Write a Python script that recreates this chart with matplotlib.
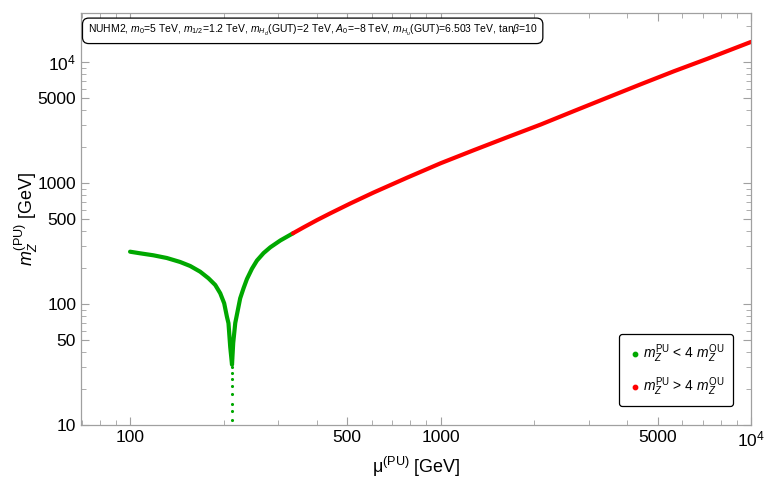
import numpy as np
import matplotlib.pyplot as plt
from matplotlib.ticker import FixedLocator, NullFormatter

plt.rcParams['font.family'] = ['Liberation Sans', 'DejaVu Sans']
plt.rcParams['mathtext.fontset'] = 'custom'
plt.rcParams['mathtext.rm'] = 'Liberation Sans'
plt.rcParams['mathtext.it'] = 'Liberation Sans:italic'
plt.rcParams['mathtext.bf'] = 'Liberation Sans:bold'

# values (GeV)
mu_green = [100, 107.7, 118.9, 131.3, 145.0, 156.2, 168.2, 178.9, 188.1, 195.2, 201.0,
            205.1, 207.5, 210.2, 213.0,
            214.9, 218.2, 226.3, 232.0, 237.9, 247.0, 256.3, 269.2, 282.9, 304.8, 334.8]
mz_green = [270.5, 262.4, 252.6, 240.0, 222.4, 206.1, 184.9, 163.1, 143.6, 122.6, 101.3,
            78.5, 69.3, 44.1, 31.5,
            47.6, 69.7, 111.4, 134.9, 160.7, 195.9, 228.7, 263.6, 294, 335, 384]
mu_dip = [213.3, 213.1, 213.4, 213.2, 213.3, 213.2, 213.4, 213.3, 213.2, 213.3, 213.3]
mz_dip = [40, 36, 33, 30, 27, 24, 21, 18, 15, 13, 11]
mu_red = [334.8, 362.2, 400.3, 441.8, 512.6, 608, 782.6, 1000, 1278, 1645, 2101,
          2692, 3449, 4418, 5658, 7250, 10000]
mz_red = [384, 430, 494, 562, 678, 833, 1110, 1455, 1865, 2395, 3040,
          3935, 5080, 6550, 8400, 10650, 14650]

green = '#00a800'
red = '#ff0000'
frame = '#a0a0a0'

fig = plt.figure(figsize=(7.66, 4.80), dpi=100)
ax = fig.add_axes([81/766, 55/480, 670/766, 412/480])

ax.plot(mu_green, mz_green, color=green, lw=3, solid_capstyle='round', solid_joinstyle='round')
ax.scatter(mu_dip, mz_dip, s=5, color=green, lw=0)
ax.plot(mu_red, mz_red, color=red, lw=3, solid_capstyle='round', solid_joinstyle='round')

ax.set_xscale('log')
ax.set_yscale('log')
ax.set_xlim(69.5, 1e4)
ax.set_ylim(10, 2.54e4)

xmaj = [100, 500, 1000, 5000, 10000]
xlab = ['100', '500', '1000', '5000', r'$10^4$']
ymaj = [10, 50, 100, 500, 1000, 5000, 10000]
ylab = ['10', '50', '100', '500', '1000', '5000', r'$10^4$']
xmin = [d * k for d in (10, 100, 1000) for k in range(2, 10)]
ymin = [d * k for d in (10, 100, 1000, 10000) for k in range(2, 10)]
ax.xaxis.set_major_locator(FixedLocator(xmaj))
ax.set_xticklabels(xlab)
ax.yaxis.set_major_locator(FixedLocator(ymaj))
ax.set_yticklabels(ylab)
ax.xaxis.set_minor_locator(FixedLocator([v for v in xmin if v not in xmaj]))
ax.yaxis.set_minor_locator(FixedLocator([v for v in ymin if v not in ymaj]))
ax.xaxis.set_minor_formatter(NullFormatter())
ax.yaxis.set_minor_formatter(NullFormatter())

ax.tick_params(which='both', direction='in', top=True, right=True, color=frame,
               labelsize=12.5, labelcolor='black')
ax.tick_params(which='major', length=6, width=0.8)
ax.tick_params(which='minor', length=3.5, width=0.6)
for s in ax.spines.values():
    s.set_color(frame)
    s.set_linewidth(0.9)

ax.set_xlabel(r'$\mathrm{\mu}^{\mathrm{(PU)}}$ [GeV]', fontsize=13)
ax.set_ylabel(r'$m_Z^{\mathrm{(PU)}}$ [GeV]', fontsize=13, labelpad=-2)

title = (r'NUHM2, $m_0$=5 TeV, $m_{1/2}$=1.2 TeV, $m_{H_d}$(GUT)=2 TeV, '
         r'$A_0$=$-$8 TeV, $m_{H_u}$(GUT)=6.503 TeV, tan$\beta$=10')
ax.text(0.01, 0.975, title, transform=ax.transAxes, ha='left', va='top', fontsize=7.5,
        bbox=dict(boxstyle='round,pad=0.5,rounding_size=0.6', fc='white', ec='black', lw=0.9))

ax.scatter([], [], s=10, color=green, label=r'$m_Z^{\mathrm{PU}}$ < 4 $m_Z^{\mathrm{OU}}$')
ax.scatter([], [], s=10, color=red, label=r'$m_Z^{\mathrm{PU}}$ > 4 $m_Z^{\mathrm{OU}}$')
leg = ax.legend(loc='lower right', bbox_to_anchor=(0.973, 0.046), borderaxespad=0,
                fontsize=10, frameon=True, fancybox=True, edgecolor='black',
                handletextpad=0.1, labelspacing=0.75, borderpad=0.6, handlelength=1.0)
leg.get_frame().set_linewidth(0.9)
leg.get_frame().set_alpha(1)

fig.savefig('out.png', dpi=100)
